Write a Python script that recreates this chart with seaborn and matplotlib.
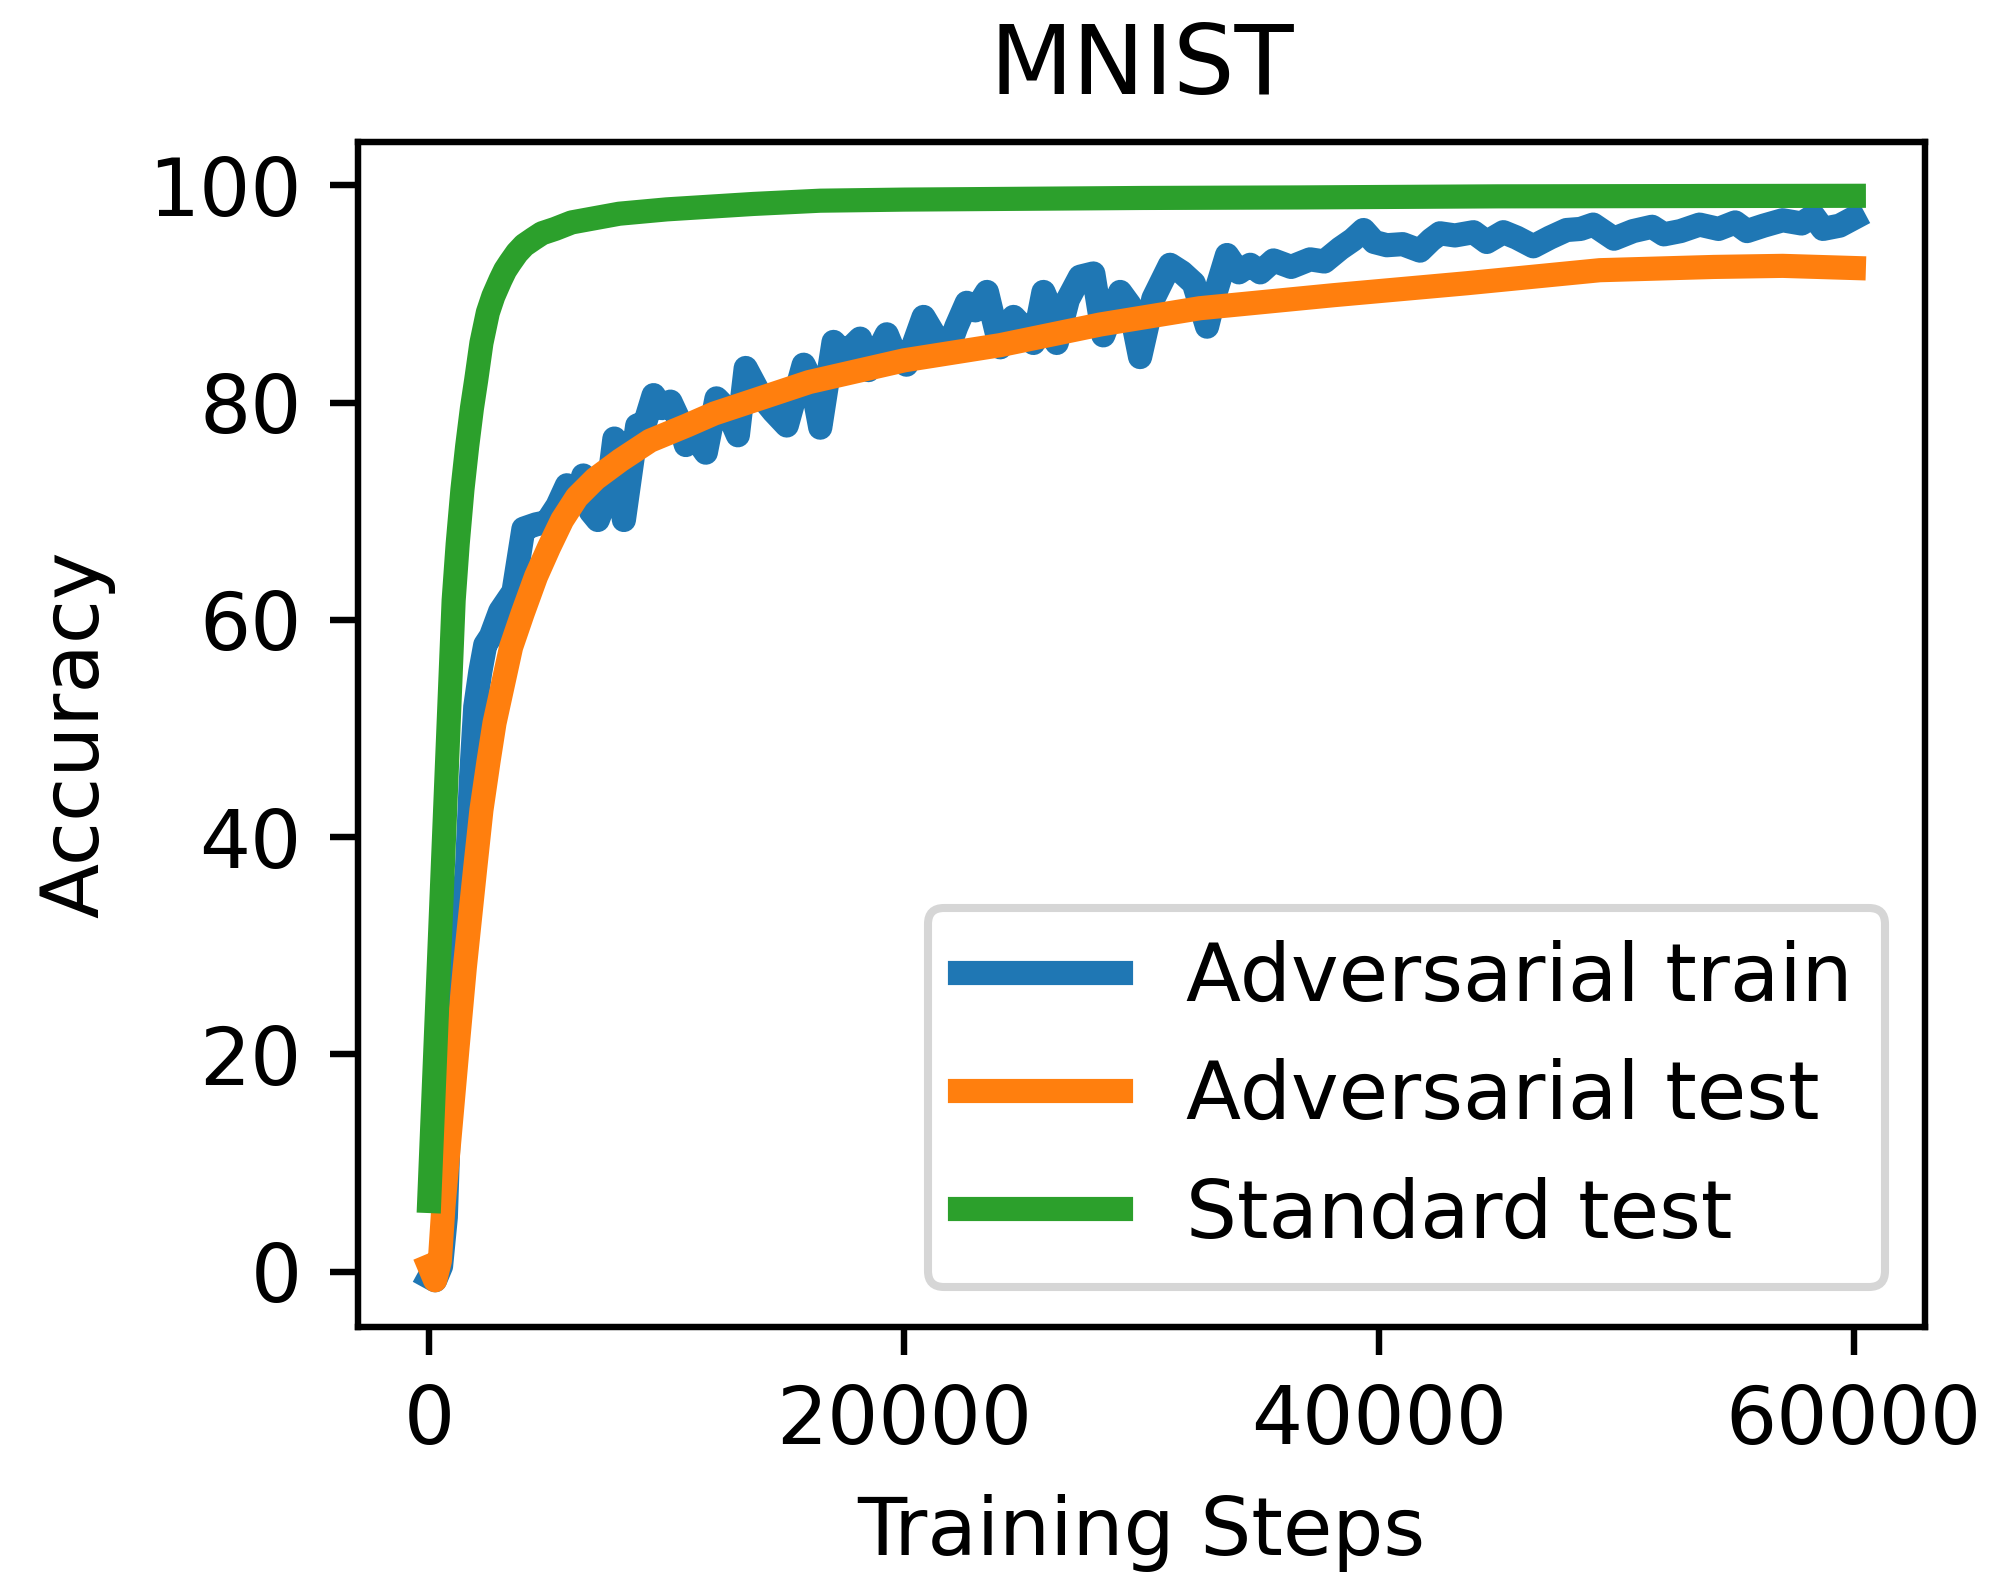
import matplotlib
matplotlib.use("Agg")
import matplotlib.pyplot as plt
import seaborn as sns
import pandas as pd

# Adversarial train (noisy)
train_steps = [0, 250, 500, 700, 900, 1100, 1350, 1590, 1750, 1940,
               2150, 2360, 2600, 2990, 3550, 3970, 4500, 4950, 5400, 5800,
               6200, 6490, 6800, 7100, 7500, 7800, 8200, 8760, 9100, 9450,
               9800, 10160, 10500, 10810, 11200, 11650, 12100, 12500, 13000, 13330,
               13940, 14500, 15060, 15770, 16100, 16470, 17030, 17500, 18150, 18500,
               19270, 19700, 20100, 20820, 21200, 21800, 22200, 22640, 23000, 23490,
               24050, 24610, 25000, 25450, 25870, 26100, 26430, 26900, 27410, 27970,
               28390, 28700, 29100, 29500, 29940, 30500, 31200, 31700, 32200, 32760,
               33100, 33600, 34100, 34580, 35000, 35560, 36300, 37100, 37700, 38370,
               38900, 39350, 39800, 40330, 41000, 41730, 42200, 42570, 43200, 43980,
               44540, 45240, 45800, 46500, 47200, 47900, 48490, 49020, 49900, 50700,
               51500, 52000, 52700, 53500, 54300, 55000, 55500, 56200, 57000, 57800,
               58300, 58700, 59400, 60000]
train_acc = [-0.5, -0.8, 0.5, 5, 18, 26, 32, 37, 45, 52,
             55.2, 57.7, 58.5, 60.8, 62.6, 68.4, 68.8, 69.0, 70.5, 72.4,
             71.0, 73.3, 70.0, 69.2, 71.5, 76.7, 69.2, 77.9, 78.2, 80.7,
             79.5, 80.1, 78.5, 76.1, 76.8, 75.4, 80.4, 79.5, 77.0, 83.2,
             80.7, 79.2, 77.9, 83.5, 82.0, 77.7, 85.6, 84.5, 85.9, 83.0,
             86.3, 84.0, 83.5, 87.9, 86.5, 84.6, 87.0, 89.2, 88.5, 90.2,
             85.1, 87.9, 87.0, 85.5, 90.2, 89.0, 85.5, 89.5, 91.6, 91.9,
             86.2, 88.0, 90.2, 89.0, 84.2, 89.6, 92.7, 92.0, 91.0, 87.0,
             90.0, 93.6, 92.0, 92.7, 92.0, 93.1, 92.5, 93.2, 93.0, 94.2,
             95.0, 95.9, 94.8, 94.5, 94.6, 94.0, 95.0, 95.6, 95.4, 95.7,
             94.8, 95.7, 95.2, 94.4, 95.2, 95.9, 96.0, 96.4, 95.1, 95.8,
             96.2, 95.5, 95.8, 96.4, 96.0, 96.6, 95.8, 96.3, 96.8, 96.5,
             97.2, 96.0, 96.3, 97.0]

# Adversarial test
adv_test_steps = [0, 250, 450, 600, 1200, 1500, 1940, 2200, 2500, 2750,
                  3000, 3450, 3935, 4500, 5050, 5600, 6220, 7000, 8050, 9300,
                  10850, 12000, 13660, 16000, 20000, 24050, 28260, 32460, 38090, 43700,
                  49300, 54100, 57000, 60000]
adv_test_acc = [0.5, -0.8, 1.0, 6.0, 20.8, 28.0, 37.2, 42.5, 47.0, 50.5,
                53.0, 57.5, 60.6, 64.0, 66.7, 69.2, 71.3, 73.0, 74.7, 76.5,
                77.9, 79.0, 80.2, 81.9, 83.9, 85.3, 87.2, 88.7, 89.9, 91.0,
                92.2, 92.5, 92.6, 92.4]

# Standard test
std_test_steps = [0, 500, 1030, 1200, 1400, 1600, 1800, 1980, 2200, 2470,
                  2700, 3000, 3200, 3410, 3700, 4000, 4400, 4750, 5300, 6000,
                  7000, 8000, 10000, 13650, 16470, 20000, 30000, 36700, 45000, 60000]
std_test_acc = [6.5, 33.3, 61.8, 67.0, 72.0, 76.0, 79.5, 82.1, 85.5, 88.3,
                89.8, 91.3, 92.2, 92.9, 93.8, 94.5, 95.1, 95.6, 96.0, 96.6,
                97.0, 97.4, 97.8, 98.3, 98.6, 98.7, 98.85, 98.9, 99.0, 99.05]

df_train = pd.DataFrame({"step": train_steps, "acc": train_acc})
df_adv = pd.DataFrame({"step": adv_test_steps, "acc": adv_test_acc})
df_std = pd.DataFrame({"step": std_test_steps, "acc": std_test_acc})

fig, ax = plt.subplots(figsize=(1992 / 580, 1573 / 580), dpi=580)
fig.subplots_adjust(left=0.1797, right=0.9664, bottom=0.1564, top=0.9097)

sns.lineplot(data=df_train, x="step", y="acc", ax=ax, color="#1f77b4", lw=3, label="Adversarial train")
sns.lineplot(data=df_adv, x="step", y="acc", ax=ax, color="#ff7f0e", lw=3, label="Adversarial test")
sns.lineplot(data=df_std, x="step", y="acc", ax=ax, color="#2ca02c", lw=3, label="Standard test")

ax.set_xlim(-3000, 63000)
ax.set_ylim(-5.1, 104.0)
ax.set_xticks([0, 20000, 40000, 60000])
ax.set_yticks([0, 20, 40, 60, 80, 100])
ax.set_title("MNIST")
ax.set_xlabel("Training Steps")
ax.set_ylabel("Accuracy")
ax.legend(loc="lower right")

plt.savefig("out.png", dpi=580)
